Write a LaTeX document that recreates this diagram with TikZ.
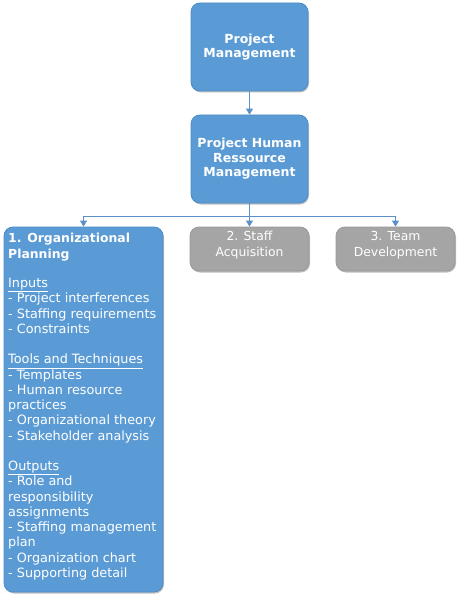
\documentclass[tikz,border=0pt]{standalone}
\usepackage{fontspec}
\setmainfont{DejaVu Sans}
\usetikzlibrary{arrows.meta,shadows}
\definecolor{boxblue}{HTML}{5B9BD5}
\definecolor{boxedge}{HTML}{4C8BC7}
\definecolor{boxgrey}{HTML}{A5A5A5}
\definecolor{greyedge}{HTML}{999999}
\definecolor{linkblue}{HTML}{5A8FC8}
\begin{document}
\begin{tikzpicture}[x=1pt,y=-1pt,
  shade/.style={drop shadow={shadow xshift=1pt,shadow yshift=-1.5pt,opacity=0.25,fill=black}},
  bluebox/.style={rectangle,rounded corners=9pt,fill=boxblue,draw=boxedge,line width=0.8pt,shade,
    text=white,font=\fontsize{12.5}{14.5}\selectfont\bfseries,align=center,inner sep=0pt},
  greybox/.style={rectangle,rounded corners=9pt,fill=boxgrey,draw=greyedge,line width=0.8pt,shade,inner sep=0pt},
  greytext/.style={text=white,font=\fontsize{12.4}{16}\selectfont,align=center,inner sep=0pt},
  linetext/.style={text=white,font=\fontsize{12.8}{14}\selectfont,anchor=base west,inner sep=0pt},
  titletext/.style={text=white,font=\fontsize{12.4}{14}\selectfont\bfseries,anchor=base west,inner sep=0pt},
  conn/.style={draw=linkblue,line width=0.9pt},
  tip/.style={-{Triangle[length=6pt,width=7pt]}}
]
\useasboundingbox (0,0) rectangle (460,599);
\node[bluebox,minimum width=117pt,minimum height=88pt] (pm) at (249.5,47) {Project\\Management};
\node[bluebox,minimum width=117pt,minimum height=88pt] (phrm) at (249.5,159) {Project Human\\Ressource\\Management};
\node[bluebox,minimum width=159pt,minimum height=365pt] (op) at (83.5,409.5) {};
\node[greybox,minimum width=119pt,minimum height=44pt] (sa) at (249.5,249) {};
\node[greybox,minimum width=119pt,minimum height=44pt] (td) at (395.5,249) {};
\node[greytext] (satext) at (249.5,245) {2. Staff\\Acquisition};
\node[greytext] (tdtext) at (395.5,245) {3. Team\\Development};
\coordinate (j) at (249.5,216);
\draw[conn,tip] (pm.south) -- (phrm.north);
\draw[conn] (phrm.south) -- (j);
\draw[conn,tip] (j) -| (op.north);
\draw[conn,tip] (j) -- (sa.north);
\draw[conn,tip] (j) -| (td.north);
\node[titletext] (t1) at (8,242) {1. Organizational};
\node[titletext] (t2) at (8,258) {Planning};
\foreach \k/\t in {0/{\underline{Inputs}},1/{- Project interferences},2/{- Staffing requirements},3/{- Constraints},
  5/{\underline{Tools and Techniques}},6/{- Templates},7/{- Human resource},8/{practices},9/{- Organizational theory},10/{- Stakeholder analysis},
  12/{\underline{Outputs}},13/{- Role and},14/{responsibility},15/{assignments},16/{- Staffing management},17/{plan},18/{- Organization chart},19/{- Supporting detail}}
  \node[linetext] (l\k) at (8,{287.5+15.25*\k}) {\t};
\end{tikzpicture}
\end{document}
